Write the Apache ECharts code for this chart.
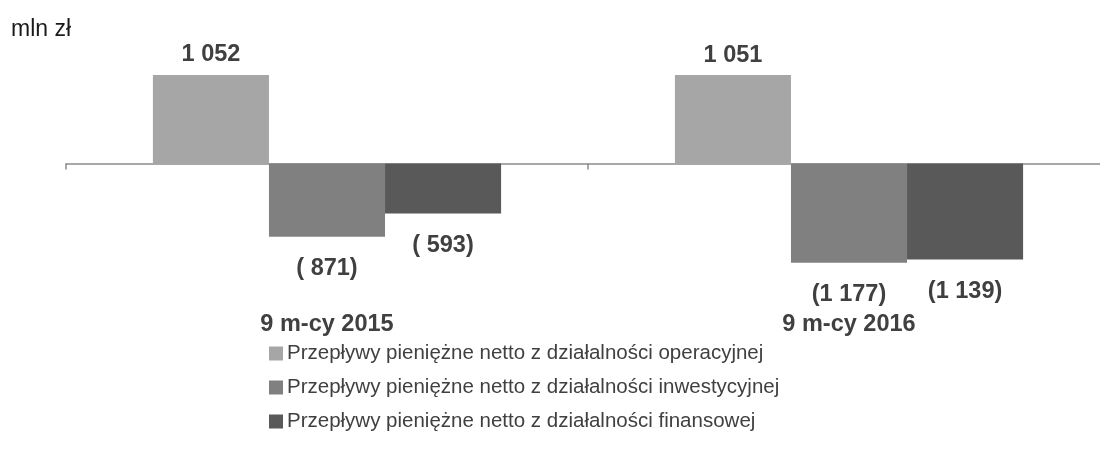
<!DOCTYPE html>
<html>
<head>
<meta charset="utf-8">
<script src="https://cdn.jsdelivr.net/npm/echarts@6/dist/echarts.min.js"></script>
<style>
html,body{margin:0;padding:0;background:#fff;overflow:hidden;}
/* axis runs a little past the right edge in the original */
#chart{width:1110px;height:471px;}
</style>
</head>
<body>
<div id="chart"></div>
<script>
var categories = ['9 m-cy 2015', '9 m-cy 2016'];
var seriesNames = [
    'Przepływy pieniężne netto z działalności operacyjnej',
    'Przepływy pieniężne netto z działalności inwestycyjnej',
    'Przepływy pieniężne netto z działalności finansowej'
];
var operacyjna = [1052, 1051];
var inwestycyjna = [-871, -1177];
var finansowa = [-593, -1139];
var colors = ['#a6a6a6', '#808080', '#595959'];

// 1 052 / ( 871) / (1 177)
function fmt(v){
    var a = Math.abs(v);
    var s = a >= 1000 ? Math.floor(a / 1000) + ' ' + String(a % 1000).padStart(3, '0') : ' ' + a;
    if (v < 0) return '(' + s + ')';
    return s.trim();
}

var chart = echarts.init(document.getElementById('chart'));
var font = 'Liberation Sans, Arial, sans-serif';

function bar(name, data, color){
    return {
        name: name,
        type: 'bar',
        data: data,
        barGap: '0%',
        barCategoryGap: '33.3%',
        itemStyle: {color: color},
        label: {
            show: true,
            formatter: function(p){ return fmt(p.value); },
            position: data[0] < 0 ? 'bottom' : 'top',
            distance: data[0] < 0 ? 20 : 8,
            fontFamily: font,
            fontWeight: 'bold',
            fontSize: 23.5,
            color: '#404040'
        }
    };
}

chart.setOption({
    animation: false,
    textStyle: {fontFamily: font},
    title: {
        text: 'mln zł',
        left: 6,
        top: 13,
        textStyle: {fontFamily: font, fontWeight: 'normal', fontSize: 23, color: '#1a1a1a'}
    },
    legend: {
        orient: 'vertical',
        left: 264,
        top: 338,
        icon: 'rect',
        itemWidth: 14,
        itemHeight: 14,
        itemGap: 13,
        textStyle: {fontFamily: font, fontSize: 20.5, color: '#404040', padding: [0, 0, 0, -1]},
        data: seriesNames
    },
    grid: {left: 66, right: 0, top: 62.5, bottom: 189.6, containLabel: false},
    xAxis: {
        type: 'category',
        data: categories,
        axisLine: {lineStyle: {color: '#8c8c8c', width: 1.5}},
        axisTick: {show: true, length: 6, lineStyle: {color: '#8c8c8c', width: 1.5}},
        axisLabel: {
            margin: 31,
            fontFamily: font,
            fontWeight: 'bold',
            fontSize: 23.5,
            color: '#404040'
        }
    },
    yAxis: {
        type: 'value',
        min: -1400,
        max: 1200,
        interval: 200,
        show: false,
        splitLine: {show: false}
    },
    series: [
        bar(seriesNames[0], operacyjna, colors[0]),
        bar(seriesNames[1], inwestycyjna, colors[1]),
        bar(seriesNames[2], finansowa, colors[2])
    ]
});
</script>
</body>
</html>
